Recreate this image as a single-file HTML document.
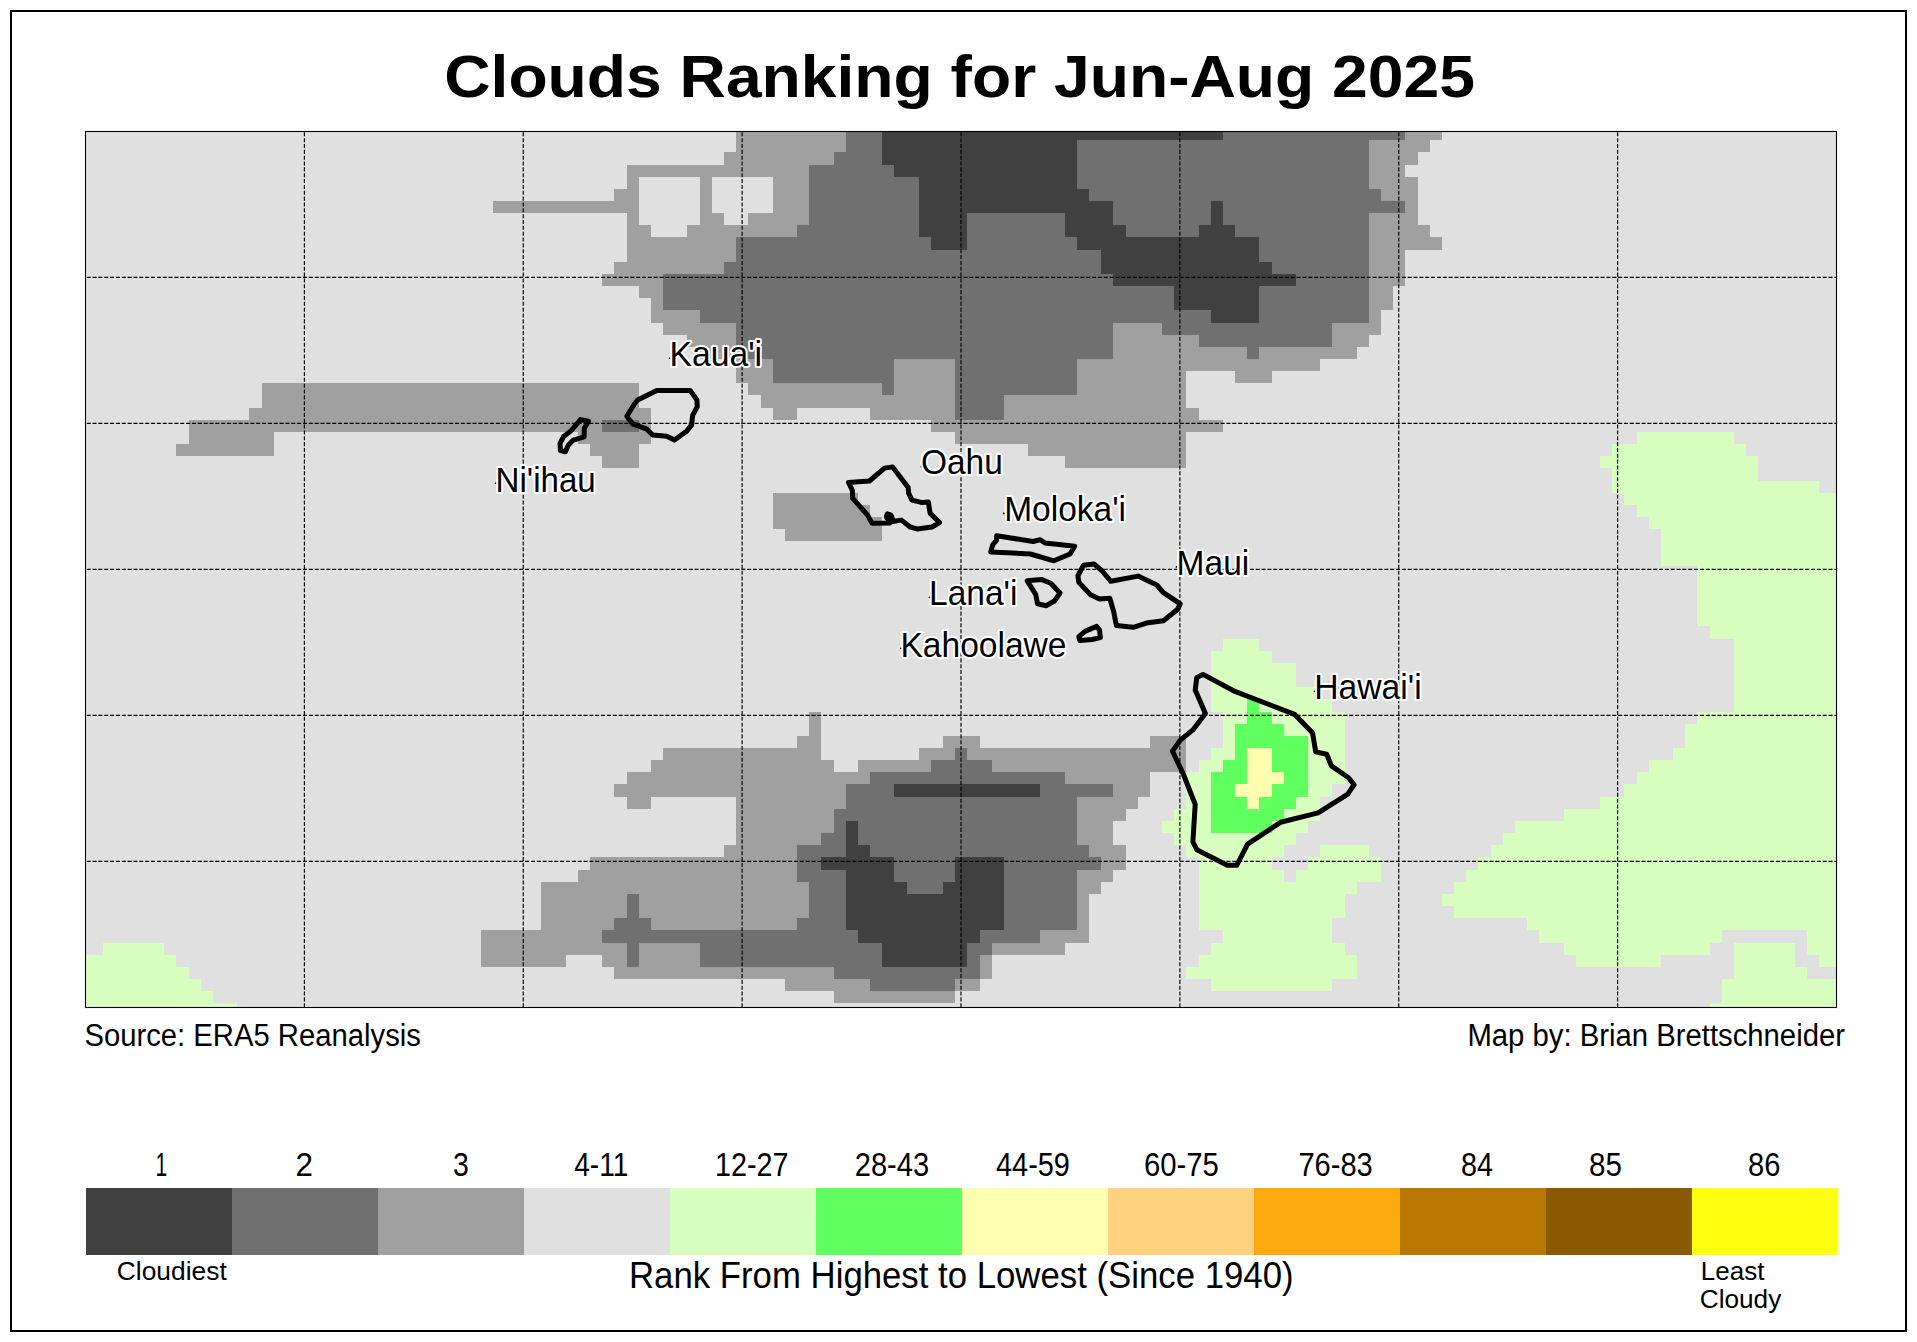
<!DOCTYPE html>
<html><head><meta charset="utf-8"><style>
html,body{margin:0;padding:0;background:#fff;}
body{width:1917px;height:1342px;overflow:hidden;position:relative;}
svg{position:absolute;left:0;top:0;}
text{font-family:"Liberation Sans",sans-serif;fill:#000;}
.title{font-weight:bold;font-size:56px;}
.src{font-size:31px;}
.lg{font-size:30px;}
.il{font-size:32px;}
.halo{stroke:#fff;stroke-width:4px;stroke-linejoin:round;}
</style></head><body>
<svg width="1917" height="1342" viewBox="0 0 1917 1342">
<rect x="11" y="11" width="1895" height="1320" fill="#fff" stroke="#000" stroke-width="2"/>
<text id="t_title" x="444.20" y="97" style="font-size:60px;font-weight:bold" textLength="1030.75" lengthAdjust="spacingAndGlyphs">Clouds Ranking for Jun-Aug 2025</text>
<rect x="85.5" y="131.4" width="1751.00" height="875.90" fill="#e0e0e0"/>
<path fill="#a0a0a0" shape-rendering="crispEdges" d="M736.1 131.4H845.6V140.2H736.1ZM1405.4 131.4H1441.9V140.2H1405.4ZM736.1 140.2H845.6V152.3H736.1ZM1368.9 140.2H1429.7V152.3H1368.9ZM724.0 152.3H833.5V164.5H724.0ZM1368.9 152.3H1417.5V164.5H1368.9ZM626.6 164.5H809.1V176.6H626.6ZM1368.9 164.5H1405.4V176.6H1368.9ZM626.6 176.6H638.8V188.8H626.6ZM699.6 176.6H711.8V188.8H699.6ZM772.6 176.6H809.1V188.8H772.6ZM1368.9 176.6H1417.5V188.8H1368.9ZM614.4 188.8H638.8V200.9H614.4ZM699.6 188.8H711.8V200.9H699.6ZM772.6 188.8H809.1V200.9H772.6ZM1381.0 188.8H1417.5V200.9H1381.0ZM492.8 200.9H638.8V213.1H492.8ZM699.6 200.9H711.8V213.1H699.6ZM772.6 200.9H809.1V213.1H772.6ZM1405.4 200.9H1417.5V213.1H1405.4ZM626.6 213.1H638.8V225.2H626.6ZM699.6 213.1H724.0V225.2H699.6ZM748.3 213.1H809.1V225.2H748.3ZM1368.9 213.1H1417.5V225.2H1368.9ZM626.6 225.2H650.9V237.4H626.6ZM687.4 225.2H797.0V237.4H687.4ZM1368.9 225.2H1429.7V237.4H1368.9ZM626.6 237.4H736.1V249.6H626.6ZM1368.9 237.4H1441.9V249.6H1368.9ZM626.6 249.6H736.1V261.7H626.6ZM1368.9 249.6H1405.4V261.7H1368.9ZM614.4 261.7H724.0V273.9H614.4ZM1368.9 261.7H1405.4V273.9H1368.9ZM602.3 273.9H663.1V286.0H602.3ZM1368.9 273.9H1405.4V286.0H1368.9ZM638.8 286.0H663.1V298.2H638.8ZM1368.9 286.0H1393.2V298.2H1368.9ZM650.9 298.2H663.1V310.3H650.9ZM1368.9 298.2H1393.2V310.3H1368.9ZM650.9 310.3H699.6V322.5H650.9ZM1368.9 310.3H1381.0V322.5H1368.9ZM663.1 322.5H736.1V334.7H663.1ZM1113.3 322.5H1162.0V334.7H1113.3ZM1332.4 322.5H1381.0V334.7H1332.4ZM687.4 334.7H736.1V346.8H687.4ZM1113.3 334.7H1198.5V346.8H1113.3ZM1332.4 334.7H1368.9V346.8H1332.4ZM699.6 346.8H736.1V359.0H699.6ZM1113.3 346.8H1247.2V359.0H1113.3ZM1259.3 346.8H1356.7V359.0H1259.3ZM736.1 359.0H772.6V371.1H736.1ZM894.3 359.0H955.1V371.1H894.3ZM1076.8 359.0H1320.2V371.1H1076.8ZM736.1 371.1H772.6V383.3H736.1ZM894.3 371.1H955.1V383.3H894.3ZM1076.8 371.1H1186.3V383.3H1076.8ZM1235.0 371.1H1271.5V383.3H1235.0ZM261.6 383.3H638.8V395.4H261.6ZM748.3 383.3H882.1V395.4H748.3ZM894.3 383.3H955.1V395.4H894.3ZM1076.8 383.3H1186.3V395.4H1076.8ZM261.6 395.4H638.8V407.6H261.6ZM760.5 395.4H955.1V407.6H760.5ZM1003.8 395.4H1186.3V407.6H1003.8ZM249.4 407.6H650.9V419.7H249.4ZM772.6 407.6H797.0V419.7H772.6ZM870.0 407.6H955.1V419.7H870.0ZM1003.8 407.6H1198.5V419.7H1003.8ZM188.6 419.7H602.3V431.9H188.6ZM638.8 419.7H650.9V431.9H638.8ZM930.8 419.7H1222.8V431.9H930.8ZM188.6 431.9H273.7V444.1H188.6ZM577.9 431.9H650.9V444.1H577.9ZM955.1 431.9H1186.3V444.1H955.1ZM176.4 444.1H273.7V456.2H176.4ZM590.1 444.1H638.8V456.2H590.1ZM1028.2 444.1H1186.3V456.2H1028.2ZM602.3 456.2H638.8V468.4H602.3ZM1064.7 456.2H1186.3V468.4H1064.7ZM772.6 492.7H857.8V504.8H772.6ZM772.6 504.8H870.0V517.0H772.6ZM772.6 517.0H882.1V529.1H772.6ZM784.8 529.1H882.1V541.3H784.8ZM809.1 711.5H821.3V723.6H809.1ZM809.1 723.6H821.3V735.8H809.1ZM797.0 735.8H821.3V748.0H797.0ZM943.0 735.8H979.5V748.0H943.0ZM1149.8 735.8H1186.3V748.0H1149.8ZM663.1 748.0H821.3V760.1H663.1ZM918.6 748.0H955.1V760.1H918.6ZM967.3 748.0H1186.3V760.1H967.3ZM650.9 760.1H833.5V772.3H650.9ZM857.8 760.1H930.8V772.3H857.8ZM991.6 760.1H1186.3V772.3H991.6ZM626.6 772.3H870.0V784.4H626.6ZM1064.7 772.3H1149.8V784.4H1064.7ZM614.4 784.4H845.6V796.6H614.4ZM1113.3 784.4H1149.8V796.6H1113.3ZM626.6 796.6H650.9V808.7H626.6ZM736.1 796.6H845.6V808.7H736.1ZM1076.8 796.6H1137.7V808.7H1076.8ZM736.1 808.7H833.5V820.9H736.1ZM1076.8 808.7H1125.5V820.9H1076.8ZM736.1 820.9H833.5V833.0H736.1ZM1076.8 820.9H1113.3V833.0H1076.8ZM736.1 833.0H821.3V845.2H736.1ZM1076.8 833.0H1113.3V845.2H1076.8ZM724.0 845.2H797.0V857.4H724.0ZM1089.0 845.2H1125.5V857.4H1089.0ZM590.1 857.4H797.0V869.5H590.1ZM1101.2 857.4H1125.5V869.5H1101.2ZM577.9 869.5H797.0V881.7H577.9ZM1076.8 869.5H1113.3V881.7H1076.8ZM541.4 881.7H809.1V893.8H541.4ZM1076.8 881.7H1101.2V893.8H1076.8ZM541.4 893.8H626.6V906.0H541.4ZM638.8 893.8H809.1V906.0H638.8ZM1076.8 893.8H1089.0V906.0H1076.8ZM541.4 906.0H626.6V918.1H541.4ZM638.8 906.0H809.1V918.1H638.8ZM1076.8 906.0H1089.0V918.1H1076.8ZM541.4 918.1H614.4V930.3H541.4ZM650.9 918.1H797.0V930.3H650.9ZM1076.8 918.1H1089.0V930.3H1076.8ZM480.6 930.3H602.3V942.5H480.6ZM1040.3 930.3H1089.0V942.5H1040.3ZM480.6 942.5H626.6V954.6H480.6ZM638.8 942.5H699.6V954.6H638.8ZM991.6 942.5H1064.7V954.6H991.6ZM480.6 954.6H565.8V966.8H480.6ZM602.3 954.6H626.6V966.8H602.3ZM638.8 954.6H699.6V966.8H638.8ZM979.5 954.6H991.6V966.8H979.5ZM614.4 966.8H833.5V978.9H614.4ZM979.5 966.8H991.6V978.9H979.5ZM784.8 978.9H870.0V991.1H784.8ZM955.1 978.9H979.5V991.1H955.1ZM833.5 991.1H955.1V1003.2H833.5Z"/>
<path fill="#707070" shape-rendering="crispEdges" d="M845.6 131.4H882.1V140.2H845.6ZM1222.8 131.4H1405.4V140.2H1222.8ZM845.6 140.2H882.1V152.3H845.6ZM1076.8 140.2H1368.9V152.3H1076.8ZM833.5 152.3H882.1V164.5H833.5ZM1076.8 152.3H1368.9V164.5H1076.8ZM809.1 164.5H894.3V176.6H809.1ZM1076.8 164.5H1368.9V176.6H1076.8ZM809.1 176.6H918.6V188.8H809.1ZM1076.8 176.6H1368.9V188.8H1076.8ZM809.1 188.8H918.6V200.9H809.1ZM1089.0 188.8H1381.0V200.9H1089.0ZM809.1 200.9H918.6V213.1H809.1ZM1113.3 200.9H1210.7V213.1H1113.3ZM1222.8 200.9H1405.4V213.1H1222.8ZM809.1 213.1H918.6V225.2H809.1ZM967.3 213.1H1064.7V225.2H967.3ZM1113.3 213.1H1210.7V225.2H1113.3ZM1222.8 213.1H1368.9V225.2H1222.8ZM797.0 225.2H918.6V237.4H797.0ZM967.3 225.2H1064.7V237.4H967.3ZM1125.5 225.2H1198.5V237.4H1125.5ZM1235.0 225.2H1368.9V237.4H1235.0ZM736.1 237.4H930.8V249.6H736.1ZM967.3 237.4H1076.8V249.6H967.3ZM1259.3 237.4H1368.9V249.6H1259.3ZM736.1 249.6H1101.2V261.7H736.1ZM1259.3 249.6H1368.9V261.7H1259.3ZM724.0 261.7H1101.2V273.9H724.0ZM1271.5 261.7H1368.9V273.9H1271.5ZM663.1 273.9H1113.3V286.0H663.1ZM1295.8 273.9H1368.9V286.0H1295.8ZM663.1 286.0H1174.2V298.2H663.1ZM1259.3 286.0H1368.9V298.2H1259.3ZM663.1 298.2H1174.2V310.3H663.1ZM1259.3 298.2H1368.9V310.3H1259.3ZM699.6 310.3H1210.7V322.5H699.6ZM1259.3 310.3H1368.9V322.5H1259.3ZM736.1 322.5H1113.3V334.7H736.1ZM1162.0 322.5H1332.4V334.7H1162.0ZM736.1 334.7H1113.3V346.8H736.1ZM1198.5 334.7H1332.4V346.8H1198.5ZM736.1 346.8H1113.3V359.0H736.1ZM1247.2 346.8H1259.3V359.0H1247.2ZM772.6 359.0H894.3V371.1H772.6ZM955.1 359.0H1076.8V371.1H955.1ZM772.6 371.1H894.3V383.3H772.6ZM955.1 371.1H1076.8V383.3H955.1ZM882.1 383.3H894.3V395.4H882.1ZM955.1 383.3H1076.8V395.4H955.1ZM955.1 395.4H1003.8V407.6H955.1ZM955.1 407.6H1003.8V419.7H955.1ZM602.3 419.7H638.8V431.9H602.3ZM955.1 748.0H967.3V760.1H955.1ZM930.8 760.1H991.6V772.3H930.8ZM870.0 772.3H1064.7V784.4H870.0ZM845.6 784.4H894.3V796.6H845.6ZM1040.3 784.4H1113.3V796.6H1040.3ZM845.6 796.6H1076.8V808.7H845.6ZM833.5 808.7H1076.8V820.9H833.5ZM833.5 820.9H845.6V833.0H833.5ZM857.8 820.9H1076.8V833.0H857.8ZM821.3 833.0H845.6V845.2H821.3ZM857.8 833.0H1076.8V845.2H857.8ZM797.0 845.2H845.6V857.4H797.0ZM870.0 845.2H1089.0V857.4H870.0ZM797.0 857.4H821.3V869.5H797.0ZM894.3 857.4H955.1V869.5H894.3ZM1003.8 857.4H1101.2V869.5H1003.8ZM797.0 869.5H845.6V881.7H797.0ZM894.3 869.5H955.1V881.7H894.3ZM1003.8 869.5H1076.8V881.7H1003.8ZM809.1 881.7H845.6V893.8H809.1ZM906.5 881.7H943.0V893.8H906.5ZM1003.8 881.7H1076.8V893.8H1003.8ZM626.6 893.8H638.8V906.0H626.6ZM809.1 893.8H845.6V906.0H809.1ZM1003.8 893.8H1076.8V906.0H1003.8ZM626.6 906.0H638.8V918.1H626.6ZM809.1 906.0H845.6V918.1H809.1ZM1003.8 906.0H1076.8V918.1H1003.8ZM614.4 918.1H650.9V930.3H614.4ZM797.0 918.1H845.6V930.3H797.0ZM1003.8 918.1H1076.8V930.3H1003.8ZM602.3 930.3H857.8V942.5H602.3ZM979.5 930.3H1040.3V942.5H979.5ZM626.6 942.5H638.8V954.6H626.6ZM699.6 942.5H882.1V954.6H699.6ZM967.3 942.5H991.6V954.6H967.3ZM626.6 954.6H638.8V966.8H626.6ZM699.6 954.6H882.1V966.8H699.6ZM967.3 954.6H979.5V966.8H967.3ZM833.5 966.8H979.5V978.9H833.5ZM870.0 978.9H955.1V991.1H870.0Z"/>
<path fill="#404040" shape-rendering="crispEdges" d="M882.1 131.4H1222.8V140.2H882.1ZM882.1 140.2H1076.8V152.3H882.1ZM882.1 152.3H1076.8V164.5H882.1ZM894.3 164.5H1076.8V176.6H894.3ZM918.6 176.6H1076.8V188.8H918.6ZM918.6 188.8H1089.0V200.9H918.6ZM918.6 200.9H1113.3V213.1H918.6ZM1210.7 200.9H1222.8V213.1H1210.7ZM918.6 213.1H967.3V225.2H918.6ZM1064.7 213.1H1113.3V225.2H1064.7ZM1210.7 213.1H1222.8V225.2H1210.7ZM918.6 225.2H967.3V237.4H918.6ZM1064.7 225.2H1125.5V237.4H1064.7ZM1198.5 225.2H1235.0V237.4H1198.5ZM930.8 237.4H967.3V249.6H930.8ZM1076.8 237.4H1259.3V249.6H1076.8ZM1101.2 249.6H1259.3V261.7H1101.2ZM1101.2 261.7H1271.5V273.9H1101.2ZM1113.3 273.9H1295.8V286.0H1113.3ZM1174.2 286.0H1259.3V298.2H1174.2ZM1174.2 298.2H1259.3V310.3H1174.2ZM1210.7 310.3H1259.3V322.5H1210.7ZM894.3 784.4H1040.3V796.6H894.3ZM845.6 820.9H857.8V833.0H845.6ZM845.6 833.0H857.8V845.2H845.6ZM845.6 845.2H870.0V857.4H845.6ZM821.3 857.4H894.3V869.5H821.3ZM955.1 857.4H1003.8V869.5H955.1ZM845.6 869.5H894.3V881.7H845.6ZM955.1 869.5H1003.8V881.7H955.1ZM845.6 881.7H906.5V893.8H845.6ZM943.0 881.7H1003.8V893.8H943.0ZM845.6 893.8H1003.8V906.0H845.6ZM845.6 906.0H1003.8V918.1H845.6ZM845.6 918.1H1003.8V930.3H845.6ZM857.8 930.3H979.5V942.5H857.8ZM882.1 942.5H967.3V954.6H882.1ZM882.1 954.6H967.3V966.8H882.1Z"/>
<path fill="#d9ffc0" shape-rendering="crispEdges" d="M1636.6 431.9H1733.9V444.1H1636.6ZM1612.2 444.1H1746.1V456.2H1612.2ZM1600.0 456.2H1758.2V468.4H1600.0ZM1612.2 468.4H1758.2V480.5H1612.2ZM1612.2 480.5H1819.1V492.7H1612.2ZM1624.4 492.7H1836.5V504.8H1624.4ZM1636.6 504.8H1836.5V517.0H1636.6ZM1648.7 517.0H1836.5V529.1H1648.7ZM1660.9 529.1H1836.5V541.3H1660.9ZM1660.9 541.3H1836.5V553.5H1660.9ZM1660.9 553.5H1836.5V565.6H1660.9ZM1697.4 565.6H1836.5V577.8H1697.4ZM1697.4 577.8H1836.5V589.9H1697.4ZM1697.4 589.9H1836.5V602.1H1697.4ZM1697.4 602.1H1836.5V614.2H1697.4ZM1697.4 614.2H1836.5V626.4H1697.4ZM1709.6 626.4H1836.5V638.6H1709.6ZM1222.8 638.6H1259.3V650.7H1222.8ZM1733.9 638.6H1836.5V650.7H1733.9ZM1210.7 650.7H1271.5V662.9H1210.7ZM1733.9 650.7H1836.5V662.9H1733.9ZM1210.7 662.9H1295.8V675.0H1210.7ZM1733.9 662.9H1836.5V675.0H1733.9ZM1210.7 675.0H1295.8V687.2H1210.7ZM1733.9 675.0H1836.5V687.2H1733.9ZM1210.7 687.2H1320.2V699.3H1210.7ZM1733.9 687.2H1836.5V699.3H1733.9ZM1210.7 699.3H1247.2V711.5H1210.7ZM1259.3 699.3H1332.4V711.5H1259.3ZM1733.9 699.3H1836.5V711.5H1733.9ZM1222.8 711.5H1247.2V723.6H1222.8ZM1271.5 711.5H1344.5V723.6H1271.5ZM1697.4 711.5H1836.5V723.6H1697.4ZM1222.8 723.6H1235.0V735.8H1222.8ZM1283.7 723.6H1344.5V735.8H1283.7ZM1685.2 723.6H1836.5V735.8H1685.2ZM1222.8 735.8H1235.0V748.0H1222.8ZM1308.0 735.8H1344.5V748.0H1308.0ZM1685.2 735.8H1836.5V748.0H1685.2ZM1210.7 748.0H1235.0V760.1H1210.7ZM1308.0 748.0H1344.5V760.1H1308.0ZM1673.1 748.0H1836.5V760.1H1673.1ZM1198.5 760.1H1222.8V772.3H1198.5ZM1308.0 760.1H1344.5V772.3H1308.0ZM1648.7 760.1H1836.5V772.3H1648.7ZM1186.3 772.3H1210.7V784.4H1186.3ZM1308.0 772.3H1344.5V784.4H1308.0ZM1636.6 772.3H1836.5V784.4H1636.6ZM1186.3 784.4H1210.7V796.6H1186.3ZM1308.0 784.4H1332.4V796.6H1308.0ZM1624.4 784.4H1836.5V796.6H1624.4ZM1186.3 796.6H1210.7V808.7H1186.3ZM1295.8 796.6H1320.2V808.7H1295.8ZM1600.0 796.6H1836.5V808.7H1600.0ZM1174.2 808.7H1210.7V820.9H1174.2ZM1283.7 808.7H1320.2V820.9H1283.7ZM1563.5 808.7H1836.5V820.9H1563.5ZM1162.0 820.9H1210.7V833.0H1162.0ZM1271.5 820.9H1308.0V833.0H1271.5ZM1514.9 820.9H1836.5V833.0H1514.9ZM1174.2 833.0H1295.8V845.2H1174.2ZM1502.7 833.0H1836.5V845.2H1502.7ZM1186.3 845.2H1283.7V857.4H1186.3ZM1320.2 845.2H1368.9V857.4H1320.2ZM1490.5 845.2H1836.5V857.4H1490.5ZM1198.5 857.4H1271.5V869.5H1198.5ZM1308.0 857.4H1381.0V869.5H1308.0ZM1478.4 857.4H1836.5V869.5H1478.4ZM1198.5 869.5H1283.7V881.7H1198.5ZM1295.8 869.5H1381.0V881.7H1295.8ZM1466.2 869.5H1836.5V881.7H1466.2ZM1198.5 881.7H1356.7V893.8H1198.5ZM1454.0 881.7H1836.5V893.8H1454.0ZM1198.5 893.8H1344.5V906.0H1198.5ZM1441.9 893.8H1836.5V906.0H1441.9ZM1198.5 906.0H1344.5V918.1H1198.5ZM1454.0 906.0H1836.5V918.1H1454.0ZM1198.5 918.1H1332.4V930.3H1198.5ZM1527.0 918.1H1836.5V930.3H1527.0ZM1222.8 930.3H1332.4V942.5H1222.8ZM1539.2 930.3H1721.7V942.5H1539.2ZM1806.9 930.3H1836.5V942.5H1806.9ZM103.4 942.5H164.2V954.6H103.4ZM1210.7 942.5H1344.5V954.6H1210.7ZM1563.5 942.5H1709.6V954.6H1563.5ZM1733.9 942.5H1794.7V954.6H1733.9ZM1806.9 942.5H1836.5V954.6H1806.9ZM85.5 954.6H176.4V966.8H85.5ZM1198.5 954.6H1356.7V966.8H1198.5ZM1575.7 954.6H1660.9V966.8H1575.7ZM1733.9 954.6H1794.7V966.8H1733.9ZM1819.1 954.6H1836.5V966.8H1819.1ZM85.5 966.8H188.6V978.9H85.5ZM1186.3 966.8H1356.7V978.9H1186.3ZM1733.9 966.8H1806.9V978.9H1733.9ZM85.5 978.9H200.7V991.1H85.5ZM1210.7 978.9H1332.4V991.1H1210.7ZM1721.7 978.9H1836.5V991.1H1721.7ZM85.5 991.1H212.9V1003.2H85.5ZM1721.7 991.1H1836.5V1003.2H1721.7ZM85.5 1003.2H237.2V1007.3H85.5ZM1709.6 1003.2H1836.5V1007.3H1709.6Z"/>
<path fill="#60ff60" shape-rendering="crispEdges" d="M1247.2 699.3H1259.3V711.5H1247.2ZM1247.2 711.5H1271.5V723.6H1247.2ZM1235.0 723.6H1283.7V735.8H1235.0ZM1235.0 735.8H1308.0V748.0H1235.0ZM1235.0 748.0H1247.2V760.1H1235.0ZM1271.5 748.0H1308.0V760.1H1271.5ZM1222.8 760.1H1247.2V772.3H1222.8ZM1271.5 760.1H1308.0V772.3H1271.5ZM1210.7 772.3H1247.2V784.4H1210.7ZM1283.7 772.3H1308.0V784.4H1283.7ZM1210.7 784.4H1235.0V796.6H1210.7ZM1271.5 784.4H1308.0V796.6H1271.5ZM1210.7 796.6H1247.2V808.7H1210.7ZM1259.3 796.6H1295.8V808.7H1259.3ZM1210.7 808.7H1283.7V820.9H1210.7ZM1210.7 820.9H1271.5V833.0H1210.7Z"/>
<path fill="#ffffb0" shape-rendering="crispEdges" d="M1247.2 748.0H1271.5V760.1H1247.2ZM1247.2 760.1H1271.5V772.3H1247.2ZM1247.2 772.3H1283.7V784.4H1247.2ZM1235.0 784.4H1271.5V796.6H1235.0ZM1247.2 796.6H1259.3V808.7H1247.2Z"/>
<path d="M304.38 132.3V1007.3M523.25 132.3V1007.3M742.12 132.3V1007.3M961.00 132.3V1007.3M1179.88 132.3V1007.3M1398.75 132.3V1007.3M1617.62 132.3V1007.3" stroke="#000" stroke-width="1.15" stroke-dasharray="4.05 1.795" fill="none"/>
<path d="M86.7 277.38H1836.5M86.7 423.37H1836.5M86.7 569.35H1836.5M86.7 715.33H1836.5M86.7 861.32H1836.5" stroke="#000" stroke-width="1.15" stroke-dasharray="4.05 1.795" fill="none"/>
<g fill="none" stroke="#000" stroke-width="5.0" stroke-linejoin="round"><path d="M656.8 390.4 L690.2 390.4 L696.9 400.0 L697.3 406.7 L692.7 415.1 L691.5 425.1 L686.9 430.9 L674.4 440.1 L666.9 436.3 L652.7 435.1 L646.8 429.2 L632.6 423.8 L626.8 416.3 L634.3 404.2 L637.6 400.0 Z"/><path d="M580.5 419.6 L588.4 421.3 L584.2 428.4 L584.2 436.8 L573.4 440.1 L568.4 445.1 L565.4 451.8 L560.4 450.5 L560.0 443.4 L563.4 436.8 L570.9 430.9 Z"/><path d="M848.5 482.5 L869.4 481.0 L884.5 468.1 L892.6 466.9 L908.2 487.6 L908.6 493.2 L912.0 500.1 L922.0 502.6 L928.3 502.0 L930.1 513.2 L939.5 522.6 L932.0 527.0 L917.0 528.9 L910.1 527.0 L901.4 520.1 L892.6 521.5 L891.8 516.5 L887.5 513.8 L886.8 516.8 L890.1 522.9 L871.9 523.2 L867.6 515.1 L852.5 498.2 L852.5 490.7 Z"/><path d="M996.7 535.7 L1033.0 541.5 L1040.3 539.7 L1045.0 543.0 L1074.7 546.2 L1070.0 554.0 L1053.9 560.8 L1030.4 554.0 L990.7 551.9 L992.8 544.6 L996.5 540.4 Z"/><path d="M1027.2 580.8 L1041.3 579.4 L1050.7 583.2 L1060.1 593.0 L1054.4 601.0 L1046.0 605.7 L1037.5 603.8 L1035.7 594.4 Z"/><path d="M1083.5 565.3 L1093.9 563.9 L1102.3 571.0 L1110.8 581.3 L1138.0 576.1 L1156.8 585.0 L1163.4 592.6 L1180.3 603.8 L1177.4 609.5 L1163.4 620.7 L1146.5 623.1 L1133.3 627.3 L1116.4 625.4 L1113.6 611.3 L1109.8 598.2 L1099.5 599.1 L1090.1 594.4 L1078.8 582.2 L1077.9 575.7 Z"/><path d="M1078.8 636.7 L1085.4 631.1 L1096.7 626.4 L1099.5 630.1 L1100.4 637.6 L1092.0 639.5 L1079.8 640.4 Z"/><path d="M1203.0 674.4 L1233.6 690.8 L1294.6 714.3 L1312.6 733.1 L1315.7 751.9 L1326.7 754.2 L1331.4 765.9 L1348.6 777.7 L1354.1 784.7 L1347.8 794.1 L1318.1 812.9 L1280.5 822.3 L1247.6 844.2 L1236.7 865.3 L1227.3 865.3 L1196.8 849.7 L1192.9 841.8 L1195.2 804.3 L1183.5 774.5 L1172.5 751.1 L1180.3 740.1 L1192.9 729.9 L1205.4 713.5 L1195.2 690.0 L1196.8 677.5 Z"/></g><rect x="884.2" y="512.2" width="9.2" height="8.6" rx="3.5" fill="#000"/>
<rect x="85.5" y="131.5" width="1751" height="876" fill="none" stroke="#000" stroke-width="1.1"/>
<circle cx="669.7" cy="358.2" r="0.9" fill="#000"/><circle cx="495.6" cy="483.2" r="0.9" fill="#000"/><circle cx="921.4" cy="466.5" r="0.9" fill="#000"/><circle cx="1003.8" cy="513.4" r="0.9" fill="#000"/><circle cx="1176.5" cy="566.9" r="0.9" fill="#000"/><circle cx="929.5" cy="597.4" r="0.9" fill="#000"/><circle cx="900.9" cy="648.3" r="0.9" fill="#000"/><circle cx="1314.5" cy="691.4" r="0.9" fill="#000"/>
<text x="669.40" y="366.2" style="font-size:34.5px" textLength="92.73" lengthAdjust="spacingAndGlyphs" class="halo">Kaua'i</text><text id="t_lb_kauai" x="669.40" y="366.2" style="font-size:34.5px" textLength="92.73" lengthAdjust="spacingAndGlyphs">Kaua'i</text>
<text x="495.60" y="491.6" style="font-size:34.5px" textLength="100.19" lengthAdjust="spacingAndGlyphs" class="halo">Ni'ihau</text><text id="t_lb_niihau" x="495.60" y="491.6" style="font-size:34.5px" textLength="100.19" lengthAdjust="spacingAndGlyphs">Ni'ihau</text>
<text x="921.00" y="473.8" style="font-size:34.5px" textLength="81.76" lengthAdjust="spacingAndGlyphs" class="halo">Oahu</text><text id="t_lb_oahu" x="921.00" y="473.8" style="font-size:34.5px" textLength="81.76" lengthAdjust="spacingAndGlyphs">Oahu</text>
<text x="1004.20" y="521.0" style="font-size:34.5px" textLength="121.83" lengthAdjust="spacingAndGlyphs" class="halo">Moloka'i</text><text id="t_lb_molokai" x="1004.20" y="521.0" style="font-size:34.5px" textLength="121.83" lengthAdjust="spacingAndGlyphs">Moloka'i</text>
<text x="1176.60" y="575.0" style="font-size:34.5px" textLength="72.65" lengthAdjust="spacingAndGlyphs" class="halo">Maui</text><text id="t_lb_maui" x="1176.60" y="575.0" style="font-size:34.5px" textLength="72.65" lengthAdjust="spacingAndGlyphs">Maui</text>
<text x="929.00" y="604.8" style="font-size:34.5px" textLength="88.36" lengthAdjust="spacingAndGlyphs" class="halo">Lana'i</text><text id="t_lb_lanai" x="929.00" y="604.8" style="font-size:34.5px" textLength="88.36" lengthAdjust="spacingAndGlyphs">Lana'i</text>
<text x="900.40" y="656.7" style="font-size:34.5px" textLength="166.14" lengthAdjust="spacingAndGlyphs" class="halo">Kahoolawe</text><text id="t_lb_kahoolawe" x="900.40" y="656.7" style="font-size:34.5px" textLength="166.14" lengthAdjust="spacingAndGlyphs">Kahoolawe</text>
<text x="1314.20" y="699.2" style="font-size:34.5px" textLength="107.51" lengthAdjust="spacingAndGlyphs" class="halo">Hawai'i</text><text id="t_lb_hawaii" x="1314.20" y="699.2" style="font-size:34.5px" textLength="107.51" lengthAdjust="spacingAndGlyphs">Hawai'i</text>
<rect x="86.00" y="1188" width="146.30" height="67" fill="#404040"/><rect x="232.00" y="1188" width="146.30" height="67" fill="#707070"/><rect x="378.00" y="1188" width="146.30" height="67" fill="#a0a0a0"/><rect x="524.00" y="1188" width="146.30" height="67" fill="#e0e0e0"/><rect x="670.00" y="1188" width="146.30" height="67" fill="#d9ffc0"/><rect x="816.00" y="1188" width="146.30" height="67" fill="#60ff60"/><rect x="962.00" y="1188" width="146.30" height="67" fill="#ffffb0"/><rect x="1108.00" y="1188" width="146.30" height="67" fill="#ffd280"/><rect x="1254.00" y="1188" width="146.30" height="67" fill="#fdaa10"/><rect x="1400.00" y="1188" width="146.30" height="67" fill="#b87800"/><rect x="1546.00" y="1188" width="146.30" height="67" fill="#8a5a00"/><rect x="1692.00" y="1188" width="146.30" height="67" fill="#ffff10"/>
<text id="t_source" x="84.40" y="1046" style="font-size:31px;font-weight:normal" textLength="336.52" lengthAdjust="spacingAndGlyphs">Source: ERA5 Reanalysis</text>
<text id="t_mapby" x="1467.40" y="1046.3" style="font-size:31px;font-weight:normal" textLength="377.59" lengthAdjust="spacingAndGlyphs">Map by: Brian Brettschneider</text>
<text id="t_l1" x="155.40" y="1176" style="font-size:32.5px;font-weight:normal" textLength="11.62" lengthAdjust="spacingAndGlyphs">1</text>
<text id="t_l2" x="295.40" y="1176" style="font-size:32.5px;font-weight:normal" textLength="17.48" lengthAdjust="spacingAndGlyphs">2</text>
<text id="t_l3" x="453.00" y="1176" style="font-size:32.5px;font-weight:normal" textLength="15.82" lengthAdjust="spacingAndGlyphs">3</text>
<text id="t_l4" x="574.20" y="1176" style="font-size:32.5px;font-weight:normal" textLength="54.30" lengthAdjust="spacingAndGlyphs">4-11</text>
<text id="t_l5" x="715.00" y="1176" style="font-size:32.5px;font-weight:normal" textLength="73.55" lengthAdjust="spacingAndGlyphs">12-27</text>
<text id="t_l6" x="854.80" y="1176" style="font-size:32.5px;font-weight:normal" textLength="74.32" lengthAdjust="spacingAndGlyphs">28-43</text>
<text id="t_l7" x="996.00" y="1176" style="font-size:32.5px;font-weight:normal" textLength="73.91" lengthAdjust="spacingAndGlyphs">44-59</text>
<text id="t_l8" x="1144.00" y="1176" style="font-size:32.5px;font-weight:normal" textLength="74.82" lengthAdjust="spacingAndGlyphs">60-75</text>
<text id="t_l9" x="1298.40" y="1176" style="font-size:32.5px;font-weight:normal" textLength="74.32" lengthAdjust="spacingAndGlyphs">76-83</text>
<text id="t_l10" x="1461.00" y="1176" style="font-size:32.5px;font-weight:normal" textLength="31.95" lengthAdjust="spacingAndGlyphs">84</text>
<text id="t_l11" x="1589.00" y="1176" style="font-size:32.5px;font-weight:normal" textLength="32.88" lengthAdjust="spacingAndGlyphs">85</text>
<text id="t_l12" x="1748.00" y="1176" style="font-size:32.5px;font-weight:normal" textLength="32.37" lengthAdjust="spacingAndGlyphs">86</text>
<text id="t_cloudiest" x="116.80" y="1280" style="font-size:26px;font-weight:normal" textLength="109.93" lengthAdjust="spacingAndGlyphs">Cloudiest</text>
<text id="t_rank" x="629.00" y="1287.5" style="font-size:36.5px;font-weight:normal" textLength="664.59" lengthAdjust="spacingAndGlyphs">Rank From Highest to Lowest (Since 1940)</text>
<text id="t_least" x="1700.80" y="1279.7" style="font-size:26px;font-weight:normal" textLength="63.58" lengthAdjust="spacingAndGlyphs">Least</text>
<text id="t_cloudy" x="1699.80" y="1307.6" style="font-size:26px;font-weight:normal" textLength="81.47" lengthAdjust="spacingAndGlyphs">Cloudy</text>
</svg>
</body></html>
